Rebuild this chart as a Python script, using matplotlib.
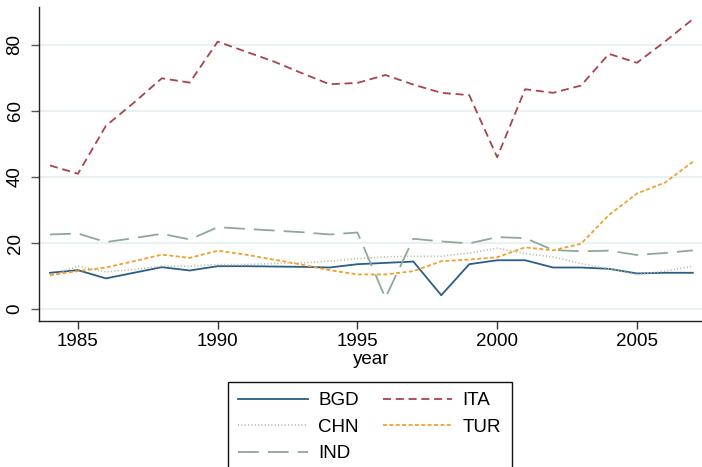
import numpy as np
import matplotlib.pyplot as plt

plt.rcParams['font.family'] = ['Liberation Sans', 'DejaVu Sans']
plt.rcParams['lines.scale_dashes'] = False

# Data
years = np.arange(1984, 2008)
bgd = [11.0, 11.8, 9.3, 11.0, 12.7, 11.7, 13.0, 13.0, 12.9, 12.8, 12.6, 13.6,
       14.0, 14.4, 4.2, 13.6, 14.8, 14.8, 12.6, 12.6, 12.2, 10.8, 11.0, 11.0]
chn = [10.0, 13.0, 11.3, 12.0, 13.0, 13.0, 13.5, 13.5, 13.8, 14.0, 14.5, 15.3,
       15.8, 16.0, 16.0, 17.0, 18.4, 16.8, 15.8, 13.8, 12.2, 10.5, 11.5, 13.0]
ind = [22.6, 22.9, 20.3, 21.5, 22.8, 21.1, 24.8, 24.3, 23.8, 23.3, 22.6, 23.2,
       3.4, 21.3, 20.5, 19.9, 21.8, 21.5, 17.9, 17.5, 17.7, 16.4, 17.0, 17.8]
ita = [43.5, 41.0, 55.5, 62.5, 69.9, 68.6, 81.0, 78.0, 75.0, 71.5, 68.1, 68.5,
       70.9, 68.0, 65.5, 64.8, 46.0, 66.6, 65.5, 67.7, 77.3, 74.6, 81.0, 87.8]
tur = [10.3, 11.5, 12.6, 14.5, 16.5, 15.5, 17.7, 16.5, 15.0, 13.5, 11.8, 10.5,
       10.5, 11.5, 14.5, 15.0, 15.7, 18.7, 17.8, 19.8, 28.5, 35.0, 38.3, 44.6]

W, H = 702, 467
fig = plt.figure(figsize=(W / 100, H / 100), dpi=100)
ax = fig.add_axes([38.8 / W, (H - 321) / H, 665.2 / W, 313.7 / H])

ax.plot(years, bgd, color='#2a5d88', lw=1.3, label='BGD')
ax.plot(years, chn, color='#b9bb9c', lw=1.2, linestyle=(0, (0.8, 1.6)), label='CHN')
ax.plot(years, ind, color='#8ea89b', lw=1.3, linestyle=(0, (15, 6.5)), label='IND')
ax.plot(years, ita, color='#a8434b', lw=1.3, linestyle=(0, (5.8, 3.4)), label='ITA')
ax.plot(years, tur, color='#f0a02c', lw=1.3, linestyle=(0, (2.8, 1.8)), label='TUR')

ax.set_xlim(1983.6, 2007.4)
ax.set_ylim(-3.6, 91.4)
ax.set_xticks([1985, 1990, 1995, 2000, 2005])
ax.set_yticks([0, 20, 40, 60, 80])
ax.grid(axis='y', color='#eaf1f2', lw=1.6)
ax.set_axisbelow(True)

for s in ['top', 'right']:
    ax.spines[s].set_visible(False)
for s in ['left', 'bottom']:
    ax.spines[s].set_color('#222222')
    ax.spines[s].set_linewidth(1.0)

ax.tick_params(axis='x', length=5.5, width=1.0, color='#333333', pad=3, labelsize=13.5)
ax.tick_params(axis='y', length=5.5, width=1.0, color='#555555', pad=5.5, labelsize=13.5)
for lab in ax.get_yticklabels():
    lab.set_rotation(90)
    lab.set_va('center')

ax.set_xlabel('year', fontsize=13.5, labelpad=1)

fig.legend(loc='upper left', bbox_to_anchor=(228 / W, 1 - 382 / H), ncol=2,
           borderaxespad=0, fontsize=13.5, handlelength=3.7, handletextpad=0.55,
           columnspacing=1.3, labelspacing=0.5, borderpad=0.55, fancybox=False,
           framealpha=1, edgecolor='#111111')

fig.savefig('out.png', dpi=100)
